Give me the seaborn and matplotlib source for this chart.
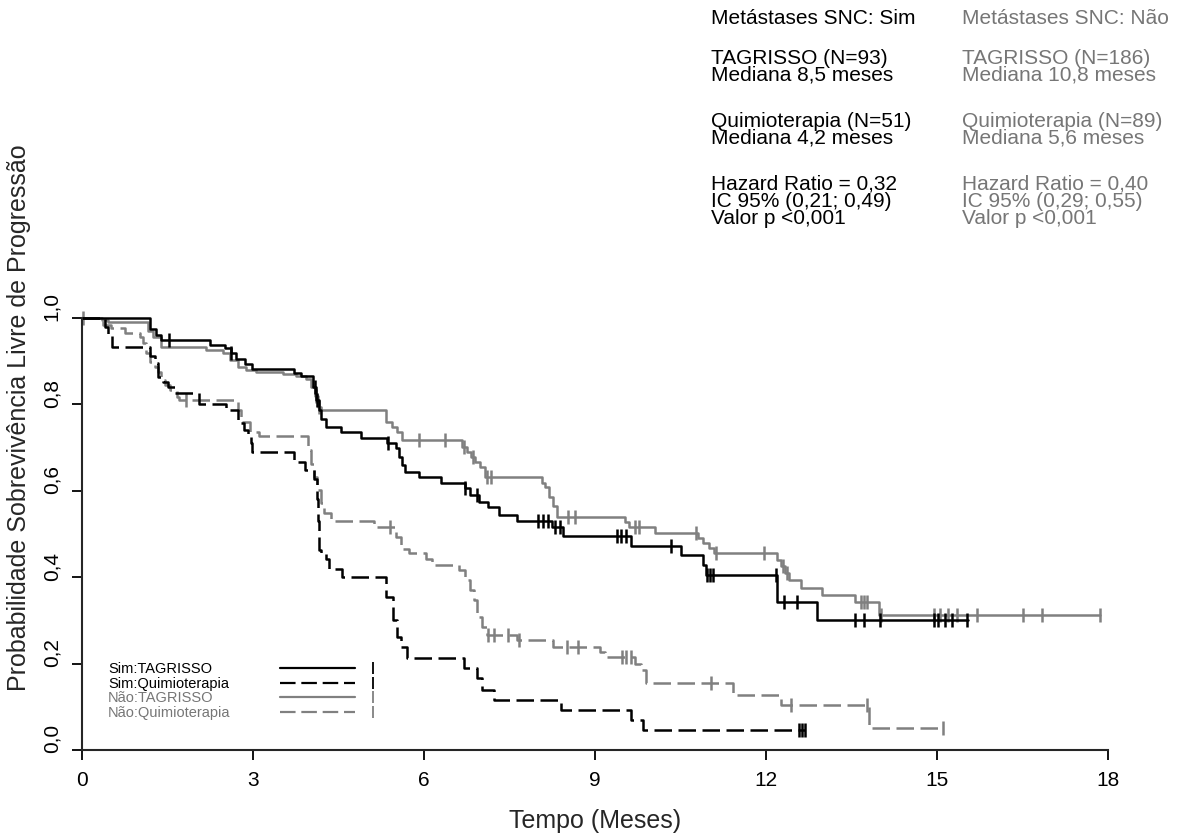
import numpy as np
import pandas as pd
import matplotlib
matplotlib.use("Agg")
import matplotlib.pyplot as plt
import matplotlib.transforms as mtransforms
from matplotlib.lines import Line2D
from matplotlib.legend_handler import HandlerTuple
import seaborn as sns

sns.set_style("ticks")
plt.rcParams["font.family"] = ["Liberation Sans", "DejaVu Sans"]

# ---------------- data ----------------
# Metástases SNC: Sim - TAGRISSO
sim_tag_t = [0, 1.19, 1.30, 1.39, 2.24, 2.50, 2.62, 2.70, 2.86, 2.99,
             3.72, 3.84, 4.05, 4.10, 4.15, 4.20, 4.28, 4.54, 4.89, 5.35,
             5.50, 5.56, 5.62, 5.66, 5.91, 6.29, 6.72, 6.81, 6.96, 7.13,
             7.31, 7.63, 8.24, 8.44, 9.63, 10.51, 10.89, 10.95, 12.20, 12.90,
             15.54]
sim_tag_s = [1.0, 0.975, 0.960, 0.949, 0.937, 0.930, 0.918, 0.904, 0.894, 0.882,
             0.873, 0.866, 0.840, 0.810, 0.787, 0.767, 0.748, 0.737, 0.723, 0.710,
             0.698, 0.679, 0.660, 0.644, 0.633, 0.619, 0.606, 0.590, 0.575, 0.563,
             0.544, 0.529, 0.517, 0.495, 0.472, 0.451, 0.428, 0.405, 0.343, 0.301,
             0.301]
sim_tag_cens = [1.52, 2.62, 4.08, 4.12, 5.36, 6.72, 6.93, 8.00, 8.09, 8.18,
                8.30, 8.39, 9.38, 9.46, 9.55, 10.34, 10.97, 11.02, 11.07, 12.18,
                12.32, 12.55, 13.57, 13.72, 14.00, 14.95, 15.02, 15.14, 15.26, 15.53]

# Metástases SNC: Sim - Quimioterapia
sim_qui_t = [0, 0.40, 0.46, 0.52, 1.19, 1.28, 1.33, 1.42, 1.50, 1.63,
             2.06, 2.53, 2.73, 2.85, 2.92, 2.97, 2.99, 3.72, 3.92, 4.07,
             4.12, 4.14, 4.16, 4.19, 4.28, 4.34, 4.57, 5.33, 5.45, 5.53,
             5.59, 5.70, 6.70, 6.93, 7.02, 7.22, 8.41, 9.64, 9.84, 12.68]
sim_qui_s = [1.0, 0.980, 0.960, 0.933, 0.911, 0.895, 0.864, 0.853, 0.841, 0.826,
             0.802, 0.787, 0.756, 0.741, 0.729, 0.710, 0.690, 0.667, 0.648, 0.628,
             0.580, 0.530, 0.463, 0.455, 0.443, 0.420, 0.401, 0.355, 0.300, 0.262,
             0.239, 0.214, 0.189, 0.166, 0.139, 0.116, 0.093, 0.069, 0.046, 0.046]
sim_qui_cens = [12.58, 12.63, 12.68]

# Metástases SNC: Não - TAGRISSO
nao_tag_t = [0, 0.35, 0.45, 1.16, 1.25, 1.39, 2.18, 2.47, 2.60, 2.73,
             2.88, 3.05, 3.52, 3.75, 3.93, 4.02, 4.08, 4.14, 4.19, 5.33,
             5.44, 5.53, 5.62, 6.67, 6.75, 6.82, 6.90, 6.99, 7.07, 8.07,
             8.12, 8.20, 8.26, 8.33, 9.52, 9.60, 10.05, 10.80, 10.90, 11.00,
             11.09, 12.20, 12.26, 12.33, 12.40, 12.62, 12.99, 13.57, 13.98, 17.86]
nao_tag_s = [1.0, 0.995, 0.990, 0.970, 0.955, 0.933, 0.927, 0.918, 0.903, 0.887,
             0.880, 0.876, 0.870, 0.866, 0.858, 0.840, 0.820, 0.795, 0.788, 0.760,
             0.748, 0.737, 0.718, 0.702, 0.690, 0.679, 0.667, 0.656, 0.633, 0.617,
             0.609, 0.585, 0.565, 0.540, 0.528, 0.517, 0.502, 0.490, 0.480, 0.468,
             0.457, 0.440, 0.425, 0.410, 0.394, 0.376, 0.359, 0.343, 0.3125, 0.3125]
nao_tag_cens = [0.02, 4.10, 4.16, 5.91, 6.37, 6.70, 6.86, 7.10, 7.18, 8.53,
                8.65, 9.70, 9.78, 10.77, 11.12, 11.97, 12.30, 12.36, 13.66, 13.72,
                13.78, 14.01, 14.95, 15.05, 15.20, 15.35, 15.70, 16.51, 16.84, 17.86]

# Metástases SNC: Não - Quimioterapia
nao_qui_t = [0, 0.37, 0.50, 0.75, 1.01, 1.07, 1.13, 1.19, 1.28, 1.33,
             1.39, 1.45, 1.54, 1.66, 1.71, 2.73, 2.79, 2.94, 3.11, 3.96,
             4.01, 4.07, 4.13, 4.19, 4.25, 4.37, 5.12, 5.50, 5.59, 5.73,
             6.03, 6.14, 6.61, 6.72, 6.81, 6.87, 6.93, 7.02, 7.10, 7.63,
             8.27, 9.08, 9.18, 9.70, 9.80, 9.90, 11.42, 12.26, 13.80, 15.10]
nao_qui_s = [1.0, 0.984, 0.976, 0.965, 0.957, 0.941, 0.918, 0.899, 0.887, 0.876,
             0.856, 0.845, 0.833, 0.818, 0.810, 0.787, 0.760, 0.737, 0.727, 0.694,
             0.663, 0.633, 0.602, 0.571, 0.548, 0.530, 0.517, 0.494, 0.466, 0.455,
             0.443, 0.428, 0.417, 0.394, 0.370, 0.347, 0.309, 0.285, 0.266, 0.255,
             0.239, 0.228, 0.216, 0.200, 0.185, 0.154, 0.127, 0.104, 0.050, 0.050]
nao_qui_cens = [1.83, 5.41, 7.13, 7.22, 7.48, 7.66, 8.50, 8.71, 9.47, 9.55,
                9.64, 11.04, 12.44, 13.78, 15.10]

legend_labels = ["Sim:TAGRISSO", "Sim:Quimioterapia", "Não:TAGRISSO", "Não:Quimioterapia"]
x_ticks = [0, 3, 6, 9, 12, 15, 18]
y_ticks = [0.0, 0.2, 0.4, 0.6, 0.8, 1.0]
y_tick_labels = ["0,0", "0,2", "0,4", "0,6", "0,8", "1,0"]

info_sim = ["Metástases SNC: Sim", "TAGRISSO (N=93)", "Mediana 8,5 meses",
            "Quimioterapia (N=51)", "Mediana 4,2 meses",
            "Hazard Ratio = 0,32", "IC 95% (0,21; 0,49)", "Valor p <0,001"]
info_nao = ["Metástases SNC: Não", "TAGRISSO (N=186)", "Mediana 10,8 meses",
            "Quimioterapia (N=89)", "Mediana 5,6 meses",
            "Hazard Ratio = 0,40", "IC 95% (0,29; 0,55)", "Valor p <0,001"]

# ---------------- styling ----------------
BLACK = "#000000"
GRAY = "#808080"
GRAY_TXT = "#767676"
LW = 1.8
DASH = (0, (7.0, 2.6))
W, H = 1187, 838

fig = plt.figure(figsize=(W / 100, H / 100), dpi=100)
# axes box placed so that 0..18 months and 0..1 match the reference
ax = fig.add_axes([82 / W, 88 / H, 1026 / W, 432 / H])


def draw_curve(t, s, cens, color, dashed):
    """Kaplan-Meier step curve plus censor ticks."""
    df = pd.DataFrame({"tempo": t, "prob": s})
    sns.lineplot(data=df, x="tempo", y="prob", ax=ax, color=color, lw=LW,
                 linestyle=DASH if dashed else "-", drawstyle="steps-post",
                 estimator=None, sort=False, legend=False)
    ax.lines[-1].set_clip_on(False)
    idx = np.searchsorted(t, cens, side="right") - 1
    ax.plot(cens, np.asarray(s)[idx], ls="none", marker="|", ms=10, mew=1.8,
            color=color, clip_on=False)


draw_curve(nao_qui_t, nao_qui_s, nao_qui_cens, GRAY, True)
draw_curve(nao_tag_t, nao_tag_s, nao_tag_cens, GRAY, False)
draw_curve(sim_qui_t, sim_qui_s, sim_qui_cens, BLACK, True)
draw_curve(sim_tag_t, sim_tag_s, sim_tag_cens, BLACK, False)

ax.set_xlim(0, 18)
ax.set_ylim(0, 1)
sns.despine(ax=ax)
for side in ["left", "bottom"]:
    ax.spines[side].set_linewidth(1.5)
ax.spines["left"].set_bounds(0, 1)
ax.spines["bottom"].set_bounds(0, 18)

ax.set_xticks(x_ticks)
ax.set_xticklabels([str(v) for v in x_ticks], fontsize=15)
ax.set_yticks(y_ticks)
ax.set_yticklabels(y_tick_labels, fontsize=15, rotation=90, va="center")
ax.tick_params(axis="both", direction="out", length=7, width=1.3, pad=8, colors=BLACK)
shift = mtransforms.ScaledTranslation(0, 8 / 72, fig.dpi_scale_trans)
for lab in ax.get_yticklabels():
    lab.set_transform(lab.get_transform() + shift)
ax.set_xlabel("")
ax.set_ylabel("")

fig.text(595 / W, 1 - 821 / H, "Tempo (Meses)", fontsize=18, ha="center", va="center")
fig.text(19 / W, 1 - 418 / H, "Probabilidade Sobrevivência Livre de Progressão",
         fontsize=18, rotation=90, ha="center", va="center")

# ---------------- legend (text block + line keys) ----------------
styles = [(BLACK, "-"), (BLACK, DASH), (GRAY, "-"), (GRAY, DASH)]
txt_handles = [Line2D([], [], ls="none") for _ in styles]
leg_txt = ax.legend(txt_handles, legend_labels, loc="upper left",
                    bbox_to_anchor=((108 - 82) / 1026, (750 - 662) / 432),
                    frameon=False, fontsize=10.5, handlelength=0, handletextpad=0,
                    labelspacing=0.05, borderpad=0, borderaxespad=0,
                    labelcolor=[BLACK, BLACK, GRAY_TXT, GRAY_TXT])
ax.add_artist(leg_txt)

key_handles = [(Line2D([], [], color=c, lw=1.6, ls=ls),
                Line2D([], [], color=c, ls="none", marker="|", ms=9, mew=1.3))
               for c, ls in styles]
ax.legend(key_handles, [""] * 4, loc="upper left",
          bbox_to_anchor=((280 - 82) / 1026, (750 - 662) / 432),
          frameon=False, fontsize=10.5, handlelength=8.95, handletextpad=0,
          labelspacing=0.05, borderpad=0, borderaxespad=0,
          handler_map={tuple: HandlerTuple(ndivide=2, pad=-1.33)})

# ---------------- summary text, top right ----------------
info_rows_px = [18, 58, 75, 121, 138, 184, 201, 218]
for y_px, a, b in zip(info_rows_px, info_sim, info_nao):
    fig.text(711 / W, 1 - y_px / H, a, fontsize=15, color=BLACK, ha="left", va="center")
    fig.text(962 / W, 1 - y_px / H, b, fontsize=15, color=GRAY_TXT, ha="left", va="center")

fig.savefig("out.png", dpi=100)
